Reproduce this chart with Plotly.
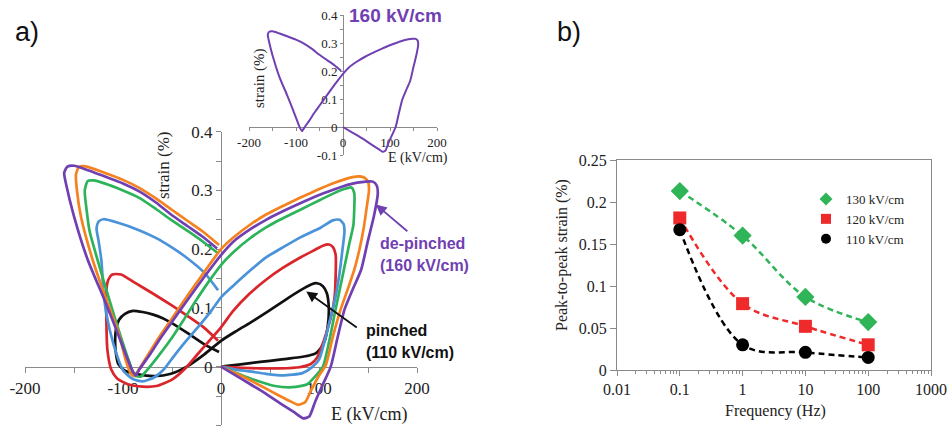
import plotly.graph_objects as go

W, H = 950, 432

# ---------------- panel a: strain vs E loops ----------------
black_e = [0, 20, 40, 60, 80, 90, 97, 102, 106, 109, 110, 108, 104, 98, 92, 80, 65, 48, 30, 14, 0,
           -17, -34, -51, -68, -85, -98, -105, -107, -108, -107, -104, -98, -90, -80, -70, -60, -51, -34, -17, -2]
black_s = [0, 0.004, 0.008, 0.012, 0.016, 0.019, 0.023, 0.032, 0.045, 0.07, 0.1, 0.125, 0.137, 0.142, 0.14,
           0.129, 0.113, 0.094, 0.075, 0.059, 0.044, 0.021, 0.001, -0.012, -0.016, -0.013, -0.007, 0.005, 0.02,
           0.04, 0.065, 0.08, 0.09, 0.095, 0.093, 0.089, 0.083, 0.075, 0.057, 0.038, 0.025]

red_e = [0, 20, 40, 60, 80, 92, 98, 103, 108, 113, 116, 117, 117, 114, 110, 104, 96, 80, 63, 46, 29, 12, 0,
         -12, -25, -37, -50, -66, -80, -95, -106, -112, -116, -117, -117, -115, -111, -102, -88, -70, -51, -34, -17, -3]
red_s = [0, -0.002, -0.003, -0.003, -0.001, 0.005, 0.015, 0.035, 0.06, 0.09, 0.12, 0.155, 0.19, 0.204, 0.208,
         0.206, 0.199, 0.185, 0.168, 0.148, 0.124, 0.094, 0.067, 0.044, 0.019, -0.004, -0.022, -0.033, -0.034,
         -0.03, -0.02, -0.005, 0.03, 0.08, 0.13, 0.148, 0.157, 0.157, 0.143, 0.125, 0.105, 0.086, 0.066, 0.044]

blue_e = [0, 15, 29, 45, 63, 83, 92, 100, 106, 112, 117, 121, 124, 126, 125, 121, 114, 102, 82, 64, 46, 30, 12, 0,
          -10, -23, -36, -48, -58, -68, -80, -90, -100, -110, -117, -120, -122, -125, -127, -125, -120, -105, -83,
          -65, -51, -37, -17, -3]
blue_s = [0, -0.005, -0.008, -0.012, -0.015, -0.011, -0.002, 0.012, 0.045, 0.085, 0.12, 0.16, 0.2, 0.23, 0.243,
          0.25, 0.249, 0.237, 0.221, 0.204, 0.186, 0.164, 0.137, 0.118, 0.095, 0.068, 0.043, 0.018, -0.004, -0.018,
          -0.025, -0.021, -0.006, 0.04, 0.09, 0.13, 0.18, 0.215, 0.235, 0.247, 0.251, 0.245, 0.232, 0.218, 0.204,
          0.188, 0.16, 0.13]

green_e = [0, 30, 55, 73, 88, 97, 104, 110, 116, 121, 126, 131, 135, 136, 136, 133, 125, 115, 100, 82, 60, 46, 30,
           12, 0, -12, -25, -38, -51, -63, -75, -82, -88, -94, -104, -114, -126, -134, -137, -139, -136, -130,
           -119, -100, -83, -66, -51, -34, -17, -3]
green_s = [0, -0.02, -0.033, -0.035, -0.03, -0.015, 0, 0.04, 0.09, 0.13, 0.17, 0.21, 0.24, 0.27, 0.295, 0.305,
           0.302, 0.295, 0.283, 0.268, 0.25, 0.237, 0.219, 0.194, 0.173, 0.146, 0.114, 0.08, 0.047, 0.02, -0.005,
           -0.017, -0.015, 0.01, 0.06, 0.114, 0.182, 0.23, 0.265, 0.3, 0.316, 0.317, 0.312, 0.3, 0.287, 0.268,
           0.25, 0.231, 0.211, 0.193]

orange_e = [0, 20, 40, 60, 72, 79, 86, 92, 100, 107, 114, 122, 130, 136, 142, 146, 149, 151, 150, 146, 140, 130,
            116, 97, 80, 60, 46, 30, 12, 0, -15, -32, -48, -64, -76, -84, -88, -92, -97, -105, -117, -131, -143,
            -147, -148, -145, -138, -119, -100, -83, -66, -51, -34, -17, -2]
orange_s = [0, -0.015, -0.032, -0.05, -0.06, -0.065, -0.06, -0.04, -0.015, 0.003, 0.05, 0.097, 0.135, 0.165,
            0.205, 0.24, 0.275, 0.3, 0.315, 0.322, 0.324, 0.321, 0.313, 0.3, 0.287, 0.271, 0.259, 0.242, 0.219,
            0.2, 0.166, 0.126, 0.087, 0.048, 0.016, -0.005, -0.016, -0.012, 0.01, 0.06, 0.114, 0.182, 0.256, 0.3,
            0.327, 0.34, 0.341, 0.33, 0.318, 0.304, 0.286, 0.268, 0.248, 0.228, 0.207]

purple_e = [0, 20, 40, 60, 75, 84, 90, 96, 104, 112, 119, 126, 134, 143, 150, 156, 160, 159, 155, 148, 130, 116,
            97, 82, 60, 46, 30, 12, 0, -17, -34, -51, -62, -72, -83, -87, -91, -97, -108, -119, -136, -150, -158,
            -160, -157, -150, -135, -119, -100, -83, -66, -51, -34, -17, -4]
purple_s = [0, -0.02, -0.04, -0.062, -0.078, -0.088, -0.085, -0.06, -0.03, 0, 0.05, 0.097, 0.13, 0.165, 0.215,
            0.256, 0.295, 0.308, 0.315, 0.315, 0.31, 0.302, 0.29, 0.279, 0.262, 0.25, 0.234, 0.212, 0.19, 0.153,
            0.114, 0.074, 0.048, 0.022, -0.004, -0.015, -0.005, 0.02, 0.068, 0.114, 0.182, 0.256, 0.31, 0.33, 0.34,
            0.342, 0.334, 0.324, 0.312, 0.298, 0.279, 0.259, 0.239, 0.219, 0.201]

loop_colors = {"black": "#111111", "red": "#d9252b", "blue": "#4b93d9",
               "green": "#2db35a", "orange": "#f5821f", "purple": "#7040b2"}

a_xticks = [-200, -150, -100, -50, 0, 50, 100, 150, 200]
a_xtext = ["-200", "", "-100", "", "0", "", "100", "", "200"]
a_yticks = [-0.1, -0.05, 0, 0.05, 0.1, 0.15, 0.2, 0.25, 0.3, 0.35, 0.4]
a_ytext = ["-0.1", "", "0", "", "0.1", "", "0.2", "", "0.3", "", "0.4"]

# ---------------- panel b: peak-to-peak strain vs frequency ----------------
freq = [0.1, 1, 10, 100]
p2p_130 = [0.213, 0.160, 0.087, 0.057]
p2p_120 = [0.181, 0.079, 0.052, 0.030]
p2p_110 = [0.167, 0.030, 0.021, 0.015]
b_xticks = [0.01, 0.1, 1, 10, 100, 1000]
b_xtext = ["0.01", "0.1", "1", "10", "100", "1000"]
b_yticks = [0, 0.05, 0.1, 0.15, 0.2, 0.25]

# ---------------- figure ----------------
def px(x):
    return x / W

def py(y):
    return 1 - y / H

fig = go.Figure()

for name, e, s in [("black", black_e, black_s), ("red", red_e, red_s), ("blue", blue_e, blue_s),
                   ("green", green_e, green_s), ("orange", orange_e, orange_s), ("purple", purple_e, purple_s)]:
    fig.add_trace(go.Scatter(x=e, y=s, mode="lines", xaxis="x", yaxis="y", showlegend=False,
                             line=dict(color=loop_colors[name], width=2.7, shape="spline", smoothing=0.6),
                             hoverinfo="skip"))

fig.add_trace(go.Scatter(x=purple_e, y=purple_s, mode="lines", xaxis="x2", yaxis="y2", showlegend=False,
                         line=dict(color=loop_colors["purple"], width=2, shape="spline", smoothing=0.6),
                         hoverinfo="skip"))

series_b = [
    ("130 kV/cm", p2p_130, "#2fb457", "diamond", 14, 10),
    ("120 kV/cm", p2p_120, "#ee2a2a", "square", 13, 10),
    ("110 kV/cm", p2p_110, "#000000", "circle", 13, 10),
]
for label, vals, col, sym, msize, lsize in series_b:
    fig.add_trace(go.Scatter(x=freq, y=vals, mode="lines+markers", xaxis="x3", yaxis="y3", showlegend=False,
                             line=dict(color=col, width=2.5, dash="6px,4px", shape="spline"),
                             marker=dict(color=col, symbol=sym, size=msize), hoverinfo="skip"))
for label, vals, col, sym, msize, lsize in series_b:
    fig.add_trace(go.Scatter(x=[None], y=[None], mode="markers", xaxis="x3", yaxis="y3", name=label,
                             legendgroup=label, marker=dict(color=col, symbol=sym, size=lsize)))

serif = "Liberation Serif"
sans = "Liberation Sans"
axcol = "#8a8a8a"

fig.update_layout(
    width=W, height=H, margin=dict(l=0, r=0, t=0, b=0, autoexpand=False),
    paper_bgcolor="white", plot_bgcolor="rgba(0,0,0,0)",
    showlegend=True,
    legend=dict(x=px(806), y=py(184), xanchor="left", yanchor="top", bgcolor="rgba(0,0,0,0)",
                font=dict(family=serif, size=13, color="#222"), tracegroupgap=0, itemwidth=30),
    xaxis=dict(domain=[px(25), px(417)], range=[-200, 200], anchor="free", position=py(367),
               tickmode="array", tickvals=a_xticks, ticktext=a_xtext, ticks="outside", ticklen=5,
               tickcolor=axcol, showline=True, linecolor=axcol, linewidth=1.3, showgrid=False, zeroline=False,
               tickfont=dict(family=serif, size=17, color="#222"), layer="below traces"),
    yaxis=dict(domain=[py(425.4), py(131.7)], range=[-0.1, 0.4], anchor="free", position=px(221),
               tickmode="array", tickvals=a_yticks, ticktext=a_ytext, ticks="outside", ticklen=5,
               tickcolor=axcol, showline=True, linecolor=axcol, linewidth=1.3, showgrid=False, zeroline=False,
               tickfont=dict(family=serif, size=17, color="#222"), layer="below traces"),
    xaxis2=dict(domain=[px(249), px(437)], range=[-200, 200], anchor="free", position=py(127),
                tickmode="array", tickvals=a_xticks, ticktext=a_xtext, ticks="outside", ticklen=3,
                tickcolor=axcol, showline=True, linecolor=axcol, linewidth=1, showgrid=False, zeroline=False,
                tickfont=dict(family=serif, size=13, color="#222"), layer="below traces"),
    yaxis2=dict(domain=[py(155), py(15)], range=[-0.1, 0.4], anchor="free", position=px(343),
                tickmode="array", tickvals=a_yticks, ticktext=a_ytext, ticks="outside", ticklen=3,
                tickcolor=axcol, showline=True, linecolor=axcol, linewidth=1, showgrid=False, zeroline=False,
                tickfont=dict(family=serif, size=13, color="#222"), layer="below traces"),
    xaxis3=dict(domain=[px(617), px(931)], type="log", range=[-2, 3], anchor="y3",
                tickmode="array", tickvals=b_xticks, ticktext=b_xtext, ticks="outside", ticklen=5,
                tickcolor=axcol, showline=True, mirror=True, linecolor=axcol, linewidth=1.2, showgrid=False,
                zeroline=False, tickfont=dict(family=serif, size=16, color="#222"),
                minor=dict(tickmode="array",
                           tickvals=[m * 10 ** k for k in range(-2, 3) for m in range(2, 10)],
                           ticks="outside", ticklen=3, tickcolor=axcol, showgrid=False)),
    yaxis3=dict(domain=[py(370), py(160)], range=[0, 0.25], anchor="x3",
                tickmode="array", tickvals=b_yticks, ticks="outside", ticklen=6,
                tickcolor=axcol, showline=True, mirror=True, linecolor=axcol, linewidth=1.2, showgrid=False,
                zeroline=False, tickfont=dict(family=serif, size=16, color="#222")),
)

ann = []

def text(x, y, t, size, family=serif, color="#222", angle=0, xanchor="center", bold=False):
    if bold:
        t = "<b>" + t + "</b>"
    ann.append(dict(x=px(x), y=py(y), xref="paper", yref="paper", text=t, showarrow=False,
                    font=dict(family=family, size=size, color=color), textangle=angle,
                    xanchor=xanchor, yanchor="middle"))

text(27, 32, "a)", 27, family=sans, color="#111")
text(569, 32, "b)", 27, family=sans, color="#111")
text(163, 165, "strain (%)", 17, angle=-90)
text(369, 414, "E (kV/cm)", 18)
text(259, 78, "strain (%)", 15, angle=-90)
text(418, 158, "E (kV/cm)", 14)
text(347, 16, "160 kV/cm", 19, family=sans, color=loop_colors["purple"], xanchor="left", bold=True)
text(378, 243, "de-pinched", 16, family=sans, color=loop_colors["purple"], xanchor="left", bold=True)
text(378, 265, "(160 kV/cm)", 16, family=sans, color=loop_colors["purple"], xanchor="left", bold=True)
text(364, 330, "pinched", 16, family=sans, color="#111", xanchor="left", bold=True)
text(364, 352, "(110 kV/cm)", 16, family=sans, color="#111", xanchor="left", bold=True)
text(562, 255, "Peak-to-peak strain (%)", 16, angle=-90)
text(775, 411, "Frequency (Hz)", 16)

# arrows pointing at the 160 and 110 kV/cm loops
ann.append(dict(x=158, y=0.276, xref="x", yref="y", ax=33, ay=28, axref="pixel", ayref="pixel", text="",
                showarrow=True, arrowhead=2, arrowsize=1.2, arrowwidth=1.8, arrowcolor=loop_colors["purple"]))
ann.append(dict(x=87, y=0.128, xref="x", yref="y", ax=52, ay=37, axref="pixel", ayref="pixel", text="",
                showarrow=True, arrowhead=2, arrowsize=1.2, arrowwidth=1.8, arrowcolor="#111"))

fig.update_layout(annotations=ann)
fig.write_html("out.html")
